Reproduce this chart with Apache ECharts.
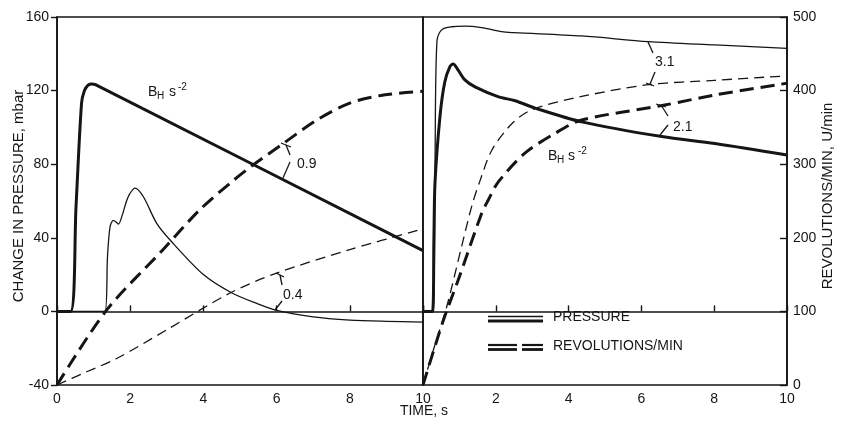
<!DOCTYPE html>
<html>
<head>
<meta charset="utf-8">
<script src="https://cdn.jsdelivr.net/npm/echarts@6/dist/echarts.min.js"></script>
<style>
html,body{margin:0;padding:0;background:#fff;}
#c{width:847px;height:421px;}
</style>
</head>
<body>
<div id="c"></div>
<script>
// ---- data ----
const xTicksLeft = ['0','2','4','6','8','10'];
const xTicksRight = ['','2','4','6','8','10'];
const pressureTicks = [-40, 0, 40, 80, 120, 160];
const revTicks = [0, 100, 200, 300, 400, 500];

// Left panel, B_H = 0.9 and 0.4 s^-2  (time s, pressure mbar / rev U/min)
const pressure09 = [[0,0],[0.37,0],[0.52,57],[0.67,113],[0.75,120],[0.85,123],[0.95,123.6],[1.05,123.2],[10,33]];
const pressure04 = [[0,0],[1.31,0],[1.38,30],[1.45,46],[1.54,49.5],[1.62,48.5],[1.68,47.5],[1.77,51.5],[1.9,60],[1.99,64],[2.13,67],[2.36,62.3],[2.72,48],[3.09,38.8],[4.0,20],[4.78,10],[5.5,4],[6,0.5],[7,-3],[8,-4.7],[9,-5.4],[10,-5.8]];
const rev09 = [[0,0],[1.36,102],[2.9,184],[3.9,238],[4.82,278],[5.36,299],[6.18,328],[7.1,360],[8.0,383],[8.92,394],[10,399]];
const rev04 = [[0,0],[0.72,16],[1.63,36],[3.0,75],[4.73,125],[6.0,152],[8.0,184],[10,212]];

// Right panel, B_H = 3.1 and 2.1 s^-2
const pressure31 = [[0,0],[0.28,0],[0.33,80],[0.38,146],[0.51,153],[0.79,154.7],[1.15,155],[1.61,154.2],[2.16,152],[2.5,151.5],[4.36,149.7],[6.19,146.6],[8.02,144.8],[10,143]];
const pressure21 = [[0,0],[0.26,0],[0.3,40],[0.33,70],[0.47,106.7],[0.6,124.8],[0.74,133],[0.83,134.5],[0.97,131],[1.15,125.8],[1.43,122],[2.06,116.7],[2.53,114.5],[3.08,110.5],[4.36,103],[6.56,95],[8.02,91.3],[10,85]];
const rev31 = [[0,0],[0.3,50],[0.65,106],[1.06,188],[1.35,245],[1.57,278],[1.89,319],[2.44,355],[2.99,374],[4.36,392],[6.19,408],[8.02,414],[10,420]];
const rev21 = [[0,0],[0.56,88],[0.97,143],[1.61,233],[1.79,251],[2.07,276],[2.8,315],[3.63,342],[4.36,360],[6.6,380],[8.02,394],[10,410]];

// ---- chart ----
const INK = '#151515';
const FONT = 'Liberation Sans, Arial, sans-serif';
const chart = echarts.init(document.getElementById('c'), null, {renderer:'canvas'});

function xAxisDef(gridIndex, labels){
  return {
    type:'value', gridIndex, min:0, max:10, interval:2,
    axisLine:{show:true, lineStyle:{color:INK, width:1.6}},
    axisTick:{show:true, inside:true, length:6, lineStyle:{color:INK, width:1.4}},
    axisLabel:{color:INK, fontSize:14, fontFamily:FONT, margin:7,
      formatter:(v)=>labels[Math.round(v/2)]},
    splitLine:{show:false}
  };
}
function line(name, data, xi, yi, width, dashed){
  return {
    name, type:'line', data, xAxisIndex:xi, yAxisIndex:yi,
    showSymbol:false, symbol:'none', smooth:0.3,
    lineStyle:{color:INK, width, type: dashed ? dashed : 'solid', cap:'butt', join:'round'},
    silent:true, z:3
  };
}

const option = {
  backgroundColor:'#ffffff',
  animation:false,
  grid:[
    {left:57, right:424, top:17, bottom:36, show:true, borderColor:INK, borderWidth:1.6, backgroundColor:'transparent', outerBoundsMode:'none', containLabel:false},
    {left:423, right:60, top:17, bottom:36, show:true, borderColor:INK, borderWidth:1.6, backgroundColor:'transparent', outerBoundsMode:'none', containLabel:false}
  ],
  xAxis:[ xAxisDef(0, xTicksLeft), xAxisDef(1, xTicksRight) ],
  yAxis:[
    { type:'value', gridIndex:0, position:'left', min:pressureTicks[0], max:pressureTicks[pressureTicks.length-1], interval:40,
      axisLine:{show:true, lineStyle:{color:INK, width:1.6}},
      axisTick:{show:true, inside:false, length:6, lineStyle:{color:INK, width:1.4}},
      axisLabel:{color:INK, fontSize:14, fontFamily:FONT, margin:8},
      splitLine:{show:false}},
    { type:'value', gridIndex:0, min:revTicks[0], max:revTicks[revTicks.length-1], show:false },
    { type:'value', gridIndex:1, min:pressureTicks[0], max:pressureTicks[pressureTicks.length-1], show:false },
    { type:'value', gridIndex:1, position:'right', min:revTicks[0], max:revTicks[revTicks.length-1], interval:100,
      axisLine:{show:true, lineStyle:{color:INK, width:1.6}},
      axisTick:{show:true, inside:true, length:7, lineStyle:{color:INK, width:1.4}},
      axisLabel:{color:INK, fontSize:14, fontFamily:FONT, margin:6},
      splitLine:{show:false}}
  ],
  series:[
    line('p0.9', pressure09, 0, 0, 3),
    line('p0.4', pressure04, 0, 0, 1.3),
    line('n0.9', rev09, 0, 1, 3, [14,7]),
    line('n0.4', rev04, 0, 1, 1.3, [10,6]),
    line('p3.1', pressure31, 1, 2, 1.3),
    line('p2.1', pressure21, 1, 2, 3),
    line('n3.1', rev31, 1, 3, 1.3, [10,6]),
    line('n2.1', rev21, 1, 3, 3, [14,7])
  ],
  graphic:[]
};

const T = (text, x, y, size) => ({type:'text', silent:true, z:10,
  style:{text, x, y, fill:INK, font: size + 'px ' + FONT, textVerticalAlign:'top'}});
const L = (pts, w) => ({type:'polyline', silent:true, z:10,
  shape:{points:pts}, style:{stroke:INK, lineWidth:w||1.3, fill:null}});
const V = (text, x, y) => ({type:'text', silent:true, z:10, x, y, rotation:Math.PI/2,
  style:{text, x:0, y:0, fill:INK, font:'15px ' + FONT, textAlign:'center', textVerticalAlign:'middle'}});

option.graphic = [
  V('CHANGE IN PRESSURE, mbar', 19, 196),
  V('REVOLUTIONS/MIN, U/min', 828, 196),
  {type:'text', silent:true, style:{text:'TIME, s', x:424, y:404, fill:INK, font:'14px ' + FONT, textAlign:'center', textVerticalAlign:'top'}},
  T('B',148,85,14), T('H',157,91,10), T('s',169,85,14), T('-2',178,82,10),
  T('B',548,149,14), T('H',557,155,10), T('s',568,149,14), T('-2',578,146,10),
  T('0.9',297,157,14), T('0.4',283,288,14), T('3.1',655,55,14), T('2.1',673,120,14),
  L([[281,143],[291,147]]), L([[286,145],[290,155]]), L([[290,162],[283,178]]),
  L([[276,273],[284,277]]), L([[280,275],[282,285]]), L([[282,301],[275,310]]),
  L([[648,42],[653,53]]), L([[655,72],[650,84]]), L([[646,83],[654,86]]),
  L([[656,104],[666,107]]), L([[661,105],[668,116]]), L([[668,125],[660,135]]),
  L([[488,316.5],[543,316.5]],1.3), L([[488,321],[543,321]],2.8),
  T('PRESSURE',553,310,14),
  L([[488,345],[517,345]],2.2), L([[522,345],[543,345]],2.2),
  L([[488,349.5],[517,349.5]],2.8), L([[522,349.5],[543,349.5]],2.8),
  T('REVOLUTIONS/MIN',553,339,14)
];

chart.setOption(option);
</script>
</body>
</html>
